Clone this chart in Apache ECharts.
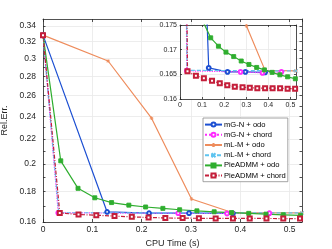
<!DOCTYPE html>
<html><head><meta charset="utf-8">
<script src="https://cdn.jsdelivr.net/npm/echarts@6/dist/echarts.min.js"></script>
<style>html,body{margin:0;padding:0;background:#fff}#c{width:332px;height:249px}</style>
</head><body><div id="c"></div>
<script>
// ---- data ----
const seriesNames = ['mG-N + odo','mG-N + chord','mL-M + odo','mL-M + chord','PieADMM + odo','PieADMM + chord'];
const mgnOdoX   = [0, 0.13, 0.215, 0.296, 0.385];
const mgnOdoY   = [0.328, 0.1663, 0.1655, 0.1655, 0.1654];
const mgnChordX = [0, 0.031, 0.274, 0.373, 0.459];
const mgnChordY = [0.328, 0.1657, 0.1655, 0.1653, 0.1655];
const mlmOdoX   = [0, 0.132, 0.22, 0.301, 0.385, 0.525];
const mlmOdoY   = [0.328, 0.297, 0.2384, 0.1748, 0.1658, 0.1657];
const mlmChordX = [0, 0.032, 0.525];
const mlmChordY = [0.328, 0.1658, 0.1657];
const pieOdoX   = [0, 0.036, 0.071, 0.105, 0.139, 0.174, 0.208, 0.243, 0.277, 0.312, 0.347, 0.382, 0.417, 0.452, 0.487, 0.522];
const pieOdoY   = [0.328, 0.2024, 0.1821, 0.1756, 0.1724, 0.1707, 0.1695, 0.1686, 0.1677, 0.1670, 0.1664, 0.1659, 0.1654, 0.1649, 0.1645, 0.1641];
const pieChordX = [0, 0.034, 0.072, 0.108, 0.145, 0.18, 0.214, 0.248, 0.283, 0.316, 0.35, 0.385, 0.419, 0.453, 0.487, 0.521];
const pieChordY = [0.328, 0.1656, 0.1647, 0.1642, 0.1637, 0.1632, 0.1628, 0.1625, 0.1624, 0.1623, 0.1622, 0.1622, 0.1622, 0.1622, 0.1621, 0.1621];
const xTicks = [0, 0.1, 0.2, 0.3, 0.4, 0.5];
const mainYLabels = [0.16, 0.18, 0.2, 0.22, 0.24, 0.26, 0.28, 0.3, 0.32, 0.34];
const mainYMinor = [0.16,0.17,0.18,0.19,0.2,0.21,0.22,0.23,0.24,0.25,0.26,0.27,0.28,0.29,0.3,0.31,0.32,0.33,0.34];
const insetYTicks = [0.16, 0.165, 0.17, 0.175];

// ---- styles ----
const xPath = 'path://M0,0L10,10M10,0L0,10';
const starPath = 'path://M5,0L5,10M0,5L10,5M1.5,1.5L8.5,8.5M8.5,1.5L1.5,8.5';
const styles = [
  {color:'#1c4fd2', type:'solid', symbol:'emptyCircle', size:3.8},
  {color:'#ff2bff', type:'dotted', symbol:'emptyCircle', size:3.8},
  {color:'#ee8c5c', type:'solid', symbol:starPath, size:3.6, open:true},
  {color:'#5ec4f0', type:[4,2], symbol:xPath, size:3.4, open:true},
  {color:'#2fae2f', type:'solid', symbol:'rect', size:4},
  {color:'#c41e3a', type:[4,1.5,1,1.5], symbol:'emptyRect', size:4}
];
const xs = [mgnOdoX, mgnChordX, mlmOdoX, mlmChordX, pieOdoX, pieChordX];
const ys = [mgnOdoY, mgnChordY, mlmOdoY, mlmChordY, pieOdoY, pieChordY];

const L = Math.log;
const font = 'Liberation Sans, Arial, Helvetica, sans-serif';
const ac = '#262626';
const gc = '#e9e9e9';

const series = [];
seriesNames.forEach((name, i) => {
  const s = styles[i];
  const base = {
    name, type:'line', symbol:s.symbol, symbolSize:s.size, showAllSymbol:true,
    lineStyle:{color:s.color, width:1.2, type:s.type},
    itemStyle:{color:s.color, borderColor:s.color, borderWidth:0.9},
    animation:false, silent:true, clip:true
  };
  series.push(Object.assign({}, base, {xAxisIndex:0, yAxisIndex:0, z:2,
    data: xs[i].map((x, k) => [x, L(ys[i][k])])}));
  series.push(Object.assign({}, base, {xAxisIndex:2, yAxisIndex:3, z:6,
    data: xs[i].map((x, k) => [x, ys[i][k]])}));
});

const lbl = {color:ac, fontFamily:font};
const option = {
  backgroundColor:'#fff',
  animation:false,
  grid:[
    {left:43, right:30, top:19, bottom:27, outerBoundsMode:'none'},
    {left:180, right:36, top:25, bottom:150, show:true, backgroundColor:'#fff', borderWidth:0, z:3, outerBoundsMode:'none'}
  ],
  xAxis:[
    {type:'value', gridIndex:0, position:'bottom', min:0, max:0.525, interval:0.1,
     name:'CPU Time (s)', nameLocation:'middle', nameGap:15, nameTextStyle:{color:ac, fontFamily:font, fontSize:9},
     axisLine:{show:true, onZero:false, lineStyle:{color:ac, width:0.8}},
     axisTick:{show:true, inside:true, length:3, lineStyle:{color:ac, width:0.8}},
     axisLabel:Object.assign({fontSize:8.5, margin:3, customValues:xTicks, formatter:v=>String(+v.toFixed(2))}, lbl),
     splitLine:{show:true, lineStyle:{color:gc, width:0.8}}},
    {type:'value', gridIndex:0, position:'top', min:0, max:0.525, interval:0.1,
     axisLine:{show:true, onZero:false, lineStyle:{color:ac, width:0.8}},
     axisTick:{show:true, inside:true, length:3, lineStyle:{color:ac, width:0.8}},
     axisLabel:{show:false}, splitLine:{show:false}},
    {type:'value', gridIndex:1, position:'bottom', min:0, max:0.525, interval:0.1, z:4,
     axisLine:{show:true, onZero:false, lineStyle:{color:ac, width:0.8}},
     axisTick:{show:true, inside:true, length:2, lineStyle:{color:ac, width:0.8}},
     axisLabel:Object.assign({fontSize:7, margin:3, formatter:v=>String(+v.toFixed(2))}, lbl),
     splitLine:{show:true, lineStyle:{color:gc, width:0.8}}},
    {type:'value', gridIndex:1, position:'top', min:0, max:0.525, interval:0.1, z:4,
     axisLine:{show:true, onZero:false, lineStyle:{color:ac, width:0.8}},
     axisTick:{show:true, inside:true, length:2, lineStyle:{color:ac, width:0.8}},
     axisLabel:{show:false}, splitLine:{show:false}}
  ],
  yAxis:[
    {type:'value', gridIndex:0, position:'left', min:L(0.16), max:L(0.349),
     name:'Rel.Err.', nameLocation:'middle', nameGap:23, nameTextStyle:{color:ac, fontFamily:font, fontSize:9},
     axisLine:{show:true, onZero:false, lineStyle:{color:ac, width:0.8}},
     axisTick:{show:true, inside:true, length:2.5, customValues:mainYMinor.map(L), lineStyle:{color:ac, width:0.8}},
     axisLabel:Object.assign({fontSize:8.5, margin:7, hideOverlap:false, customValues:mainYLabels.map(L),
       formatter:v=>String(Math.round(Math.exp(v)*100)/100)}, lbl),
     splitLine:{show:false}},
    {type:'value', gridIndex:0, position:'right', min:L(0.16), max:L(0.349),
     axisLine:{show:true, onZero:false, lineStyle:{color:ac, width:0.8}},
     axisTick:{show:true, inside:true, length:2.5, customValues:mainYMinor.map(L), lineStyle:{color:ac, width:0.8}},
     axisLabel:{show:false}, splitLine:{show:false}},
    {type:'value', gridIndex:0, position:'left', min:L(0.16), max:L(0.349),
     axisLine:{show:false}, axisTick:{show:false, customValues:mainYLabels.map(L)},
     axisLabel:{show:false, customValues:mainYLabels.map(L)},
     splitLine:{show:true, lineStyle:{color:gc, width:0.8}}},
    {type:'value', gridIndex:1, position:'left', min:0.16, max:0.175, interval:0.005, z:4,
     axisLine:{show:true, onZero:false, lineStyle:{color:ac, width:0.8}},
     axisTick:{show:true, inside:true, length:2, lineStyle:{color:ac, width:0.8}},
     axisLabel:Object.assign({fontSize:7, margin:3, customValues:insetYTicks, formatter:v=>String(+v.toFixed(3))}, lbl),
     splitLine:{show:true, lineStyle:{color:gc, width:0.8}}},
    {type:'value', gridIndex:1, position:'right', min:0.16, max:0.175, interval:0.005, z:4,
     axisLine:{show:true, onZero:false, lineStyle:{color:ac, width:0.8}},
     axisTick:{show:true, inside:true, length:2, lineStyle:{color:ac, width:0.8}},
     axisLabel:{show:false}, splitLine:{show:false}}
  ],
  legend:{
    data:seriesNames, orient:'vertical', left:203, top:118, z:10,
    itemWidth:17, itemHeight:5, itemGap:0,
    padding:[1.5,2,1,1], backgroundColor:'#fff', borderColor:'#8c8c8c', borderWidth:0.8,
    textStyle:{color:'#000', fontFamily:font, fontSize:7.6, lineHeight:10.2, padding:[0,0,0,-3]},
    selectedMode:false
  },
  series
};
const chart = echarts.init(document.getElementById('c'));
chart.setOption(option);
</script>
</body></html>
